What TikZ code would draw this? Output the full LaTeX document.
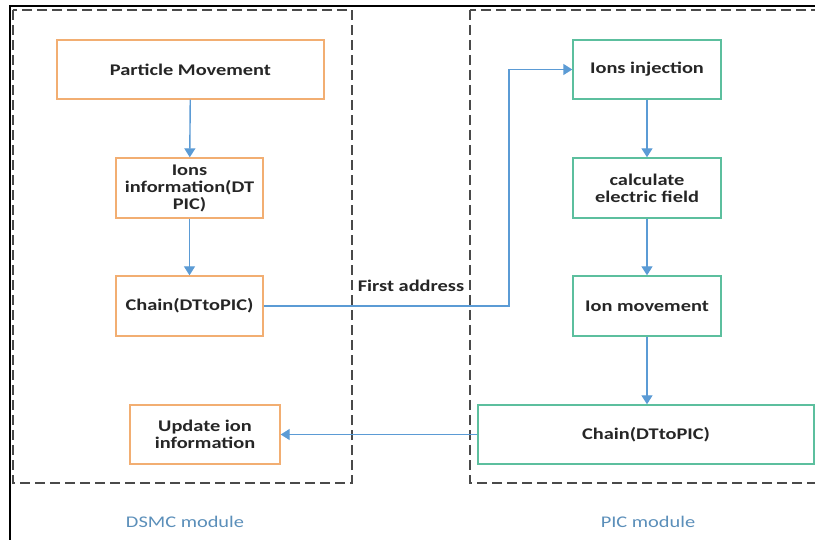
\documentclass[tikz,border=0pt]{standalone}
\usepackage{fontspec}
\setmainfont[FakeStretch=1.25]{Carlito}
\usetikzlibrary{arrows.meta}
\definecolor{flowblue}{HTML}{5B9BD5}
\definecolor{boxorange}{HTML}{F2AE72}
\definecolor{boxgreen}{HTML}{5CBF9E}
\definecolor{modgray}{HTML}{4A4A4A}
\definecolor{modlabel}{HTML}{5B8FBA}
\tikzset{
  stepbox/.style={draw, line width=1.4pt, fill=white, align=center, inner sep=2pt,
    font=\fontsize{16.3}{17}\selectfont\bfseries, text=black!85},
  dsmcbox/.style={stepbox, draw=boxorange},
  picbox/.style={stepbox, draw=boxgreen},
  modframe/.style={draw=modgray, line width=1.3pt, dash pattern=on 10pt off 5pt},
  flow/.style={draw=flowblue, line width=1.4pt, -{Triangle[width=11pt,length=9pt]}},
  modname/.style={font=\fontsize{16.3}{17}\selectfont, text=modlabel},
}
\begin{document}
\begin{tikzpicture}[x={(1pt,0)}, y={(0,-1pt)}]
\clip (0,0) rectangle (815,540);
\fill[white] (0,0) rectangle (815,540);

% outer frame lines
\draw[line width=2.6pt] (10,540) -- (10,6) -- (815,6);

% module frames
\draw[modframe] (13,10) rectangle (352,483);
\draw[modframe] (470,10) rectangle (840,483);

% DSMC module steps
\node[dsmcbox, minimum width=267pt, minimum height=59pt] (pm) at (190.5,69.5) {Particle Movement};
\node[dsmcbox, minimum width=147pt, minimum height=60pt] (ii) at (189.5,188) {Ions\\information(DT\\PIC)};
\node[dsmcbox, minimum width=147pt, minimum height=60pt] (chl) at (189.5,306) {Chain(DTtoPIC)};
\node[dsmcbox, minimum width=150pt, minimum height=59pt] (up) at (205,434.5) {Update ion\\information};

% PIC module steps
\node[picbox, minimum width=148pt, minimum height=59pt] (inj) at (647,69.5) {Ions injection};
\node[picbox, minimum width=148pt, minimum height=60pt] (cef) at (647,188) {calculate\\electric field};
\node[picbox, minimum width=148pt, minimum height=60pt] (im) at (647,306) {Ion movement};
\node[picbox, minimum width=336pt, minimum height=59pt] (chr) at (646,434.5) {Chain(DTtoPIC)};

% connectors
\draw[flow] (pm) -- (ii);
\draw[flow] (ii) -- (chl);
\draw[flow] (inj) -- (cef);
\draw[flow] (cef) -- (im);
\draw[flow] (im) -- (im |- chr.north);
\coordinate (turnlow) at (509,306);
\coordinate (turnhigh) at (509,69.5);
\draw[flow] (chl.east) -- (turnlow) -- (turnhigh) -- (inj.west);
\draw[flow] (chr.west) -- (up.east |- chr.west);

\node[font=\fontsize{16.3}{17}\selectfont\bfseries, text=black!85] (fa) at (411,286) {First address};

% module names
\node[modname] (dsmc) at (185,522) {DSMC module};
\node[modname] (pic) at (648,522) {PIC module};
\end{tikzpicture}
\end{document}
